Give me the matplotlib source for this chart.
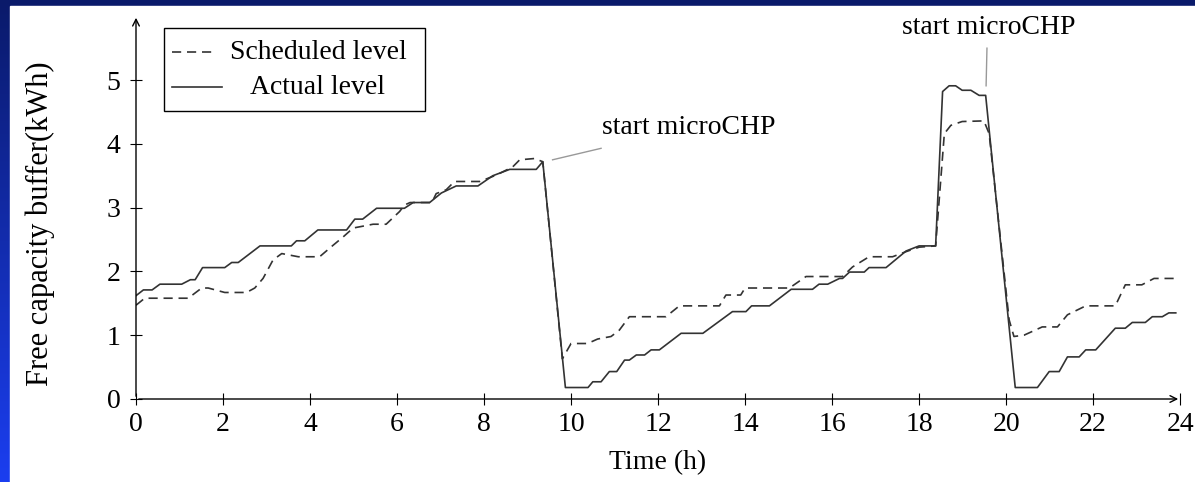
import numpy as np
import matplotlib.pyplot as plt
from matplotlib.patches import Rectangle
from matplotlib.lines import Line2D

plt.rcParams['font.family'] = ['Liberation Serif', 'DejaVu Serif']

# -------------------------
# Data (time in hours, free capacity in kWh)
# -------------------------
t_actual = [0, 0.17, 0.37, 0.55, 1.05, 1.25, 1.36, 1.53, 2.04, 2.2, 2.35, 2.85,
            3.57, 3.69, 3.88, 4.18, 4.84, 5.03, 5.21, 5.53, 6.17, 6.37, 6.75,
            7.02, 7.36, 7.86, 8.2, 8.59, 9.2, 9.35, 9.87, 10.39, 10.5, 10.69,
            10.88, 11.05, 11.23, 11.34, 11.5, 11.69, 11.84, 12.03, 12.53, 13.03,
            13.71, 14.02, 14.15, 14.56, 15.06, 15.55, 15.7, 15.9, 16.17, 16.24,
            16.4, 16.74, 16.85, 17.24, 17.7, 18.0, 18.38, 18.54, 18.69, 18.84,
            18.99, 19.19, 19.38, 19.53, 20.21, 20.72, 20.99, 21.22, 21.41, 21.68,
            21.83, 22.06, 22.51, 22.74, 22.9, 23.2, 23.36, 23.59, 23.74, 23.9]
actual = [1.62, 1.71, 1.71, 1.80, 1.80, 1.87, 1.87, 2.06, 2.06, 2.14, 2.14, 2.40,
          2.40, 2.48, 2.48, 2.65, 2.65, 2.82, 2.82, 2.99, 2.99, 3.08, 3.08,
          3.23, 3.34, 3.34, 3.50, 3.60, 3.60, 3.72, 0.18, 0.18, 0.27, 0.27,
          0.43, 0.43, 0.61, 0.61, 0.69, 0.69, 0.77, 0.77, 1.03, 1.03,
          1.37, 1.37, 1.46, 1.46, 1.72, 1.72, 1.80, 1.80, 1.89, 1.89,
          1.99, 1.99, 2.06, 2.06, 2.32, 2.40, 2.40, 4.82, 4.91, 4.91,
          4.84, 4.84, 4.76, 4.76, 0.18, 0.18, 0.43, 0.43, 0.66, 0.66,
          0.77, 0.77, 1.11, 1.11, 1.20, 1.20, 1.29, 1.29, 1.35, 1.35]

t_sched = [0, 0.2, 1.2, 1.51, 1.66, 2.04, 2.54, 2.73, 2.92, 3.15, 3.35, 3.73,
           4.22, 4.53, 4.76, 4.99, 5.45, 5.75, 6.06, 6.17, 6.3, 6.8, 6.9, 7.13,
           7.32, 7.9, 8.28, 8.66, 8.82, 9.16, 9.35, 9.8, 10.0, 10.38, 10.61,
           10.92, 11.11, 11.34, 12.18, 12.49, 13.41, 13.56, 13.9, 14.0, 15.02,
           15.4, 16.24, 16.47, 16.85, 17.39, 17.7, 18.0, 18.38, 18.58, 18.73,
           18.99, 19.49, 19.61, 20.07, 20.18, 20.41, 20.83, 21.18, 21.41, 21.83,
           22.51, 22.74, 23.12, 23.4, 23.9]
scheduled = [1.47, 1.58, 1.58, 1.74, 1.74, 1.67, 1.67, 1.74, 1.89, 2.18, 2.28, 2.23,
             2.23, 2.41, 2.54, 2.68, 2.74, 2.74, 2.94, 3.04, 3.08, 3.08, 3.22, 3.28,
             3.41, 3.41, 3.51, 3.64, 3.75, 3.77, 3.72, 0.63, 0.87, 0.87, 0.94,
             0.98, 1.08, 1.29, 1.29, 1.46, 1.46, 1.63, 1.63, 1.74, 1.74,
             1.92, 1.92, 2.07, 2.23, 2.23, 2.31, 2.38, 2.40, 4.16, 4.29,
             4.35, 4.36, 4.16, 1.24, 0.98, 1.00, 1.13, 1.13, 1.32, 1.46,
             1.46, 1.79, 1.79, 1.89, 1.89]

x_ticks = list(range(0, 25, 2))
y_ticks = [0, 1, 2, 3, 4, 5]

W, H = 1195, 482
def px(x, y):
    return x / W, 1 - y / H

fig = plt.figure(figsize=(W / 100, H / 100), dpi=100)

# -------------------------
# Slide background: blue gradient frame + white area
# -------------------------
bg = fig.add_axes([0, 0, 1, 1])
grad = np.linspace(0, 1, 256).reshape(-1, 1)
top = np.array([0x0a, 0x1a, 0x6a]) / 255
bottom = np.array([0x1b, 0x3e, 0xf0]) / 255
img = top + grad[..., None] * (bottom - top)
bg.imshow(img, extent=[0, W, H, 0], aspect='auto')
bg.add_patch(Rectangle((10, 6), W - 10, H - 6, color='white'))
bg.set_xlim(0, W)
bg.set_ylim(H, 0)
bg.axis('off')

# -------------------------
# Main axes
# -------------------------
x0, x1 = 136, 1181
y0, y1 = 399, 15
ax = fig.add_axes([x0 / W, (H - y0) / H, (x1 - x0) / W, (y0 - y1) / H])
ax.patch.set_alpha(0)
ax.set_xlim(0, 24.02)
ax.set_ylim(0, 6.02)

line_col = '#333333'
ax.plot(t_sched, scheduled, color=line_col, lw=1.2, linestyle=(0, (5.5, 3.5)))
ax.plot(t_actual, actual, color=line_col, lw=1.2)

for s in ax.spines.values():
    s.set_visible(False)
arrow = dict(arrowstyle='->', lw=1.0, color='black', mutation_scale=12)
ax.annotate('', xy=(1, 0), xytext=(0, 0), xycoords='axes fraction', arrowprops=arrow)
ax.annotate('', xy=(0, 1), xytext=(0, 0), xycoords='axes fraction', arrowprops=arrow)

ax.set_xticks(x_ticks)
ax.set_yticks(y_ticks)
ax.tick_params(direction='inout', length=8.5, width=0.8, labelsize=20)
ax.tick_params(axis='x', pad=5)
ax.tick_params(axis='y', pad=7)

# annotations
ax.plot([9.575, 10.69], [3.75, 3.93], color='#999999', lw=1.0)
ax.text(10.72, 4.26, 'start microCHP', fontsize=20, ha='left', va='center')
ax.plot([19.54, 19.56], [4.91, 5.50], color='#999999', lw=1.0)
ax.text(19.59, 5.82, 'start microCHP', fontsize=20, ha='center', va='center')

# axis labels
fig.text(*px(658, 463), 'Time (h)', fontsize=20, ha='center', va='center')
fig.text(*px(40, 224), 'Free capacity buffer(kWh)', fontsize=22, rotation=90,
         ha='center', va='center')

# -------------------------
# Legend drawn as a box with centred labels
# -------------------------
lx, ly = px(164, 111)
rx, ry = px(425, 28)
fig.patches.append(Rectangle((lx, ly), rx - lx, ry - ly, transform=fig.transFigure,
                             facecolor='white', edgecolor='black', lw=1.0, zorder=5))
for yy, ls, label, xe in [(52, (0, (5.5, 3.5)), 'Scheduled level', 217),
                          (87, '-', 'Actual level', 222)]:
    a, b = px(172, yy)
    c, _ = px(xe, yy)
    fig.lines.append(Line2D([a, c], [b, b], transform=fig.transFigure,
                            color=line_col, lw=1.2, linestyle=ls, zorder=6))
    fig.text(*px(318, yy), label, fontsize=20, ha='center', va='center', zorder=6)

plt.savefig('out.png', dpi=100)
